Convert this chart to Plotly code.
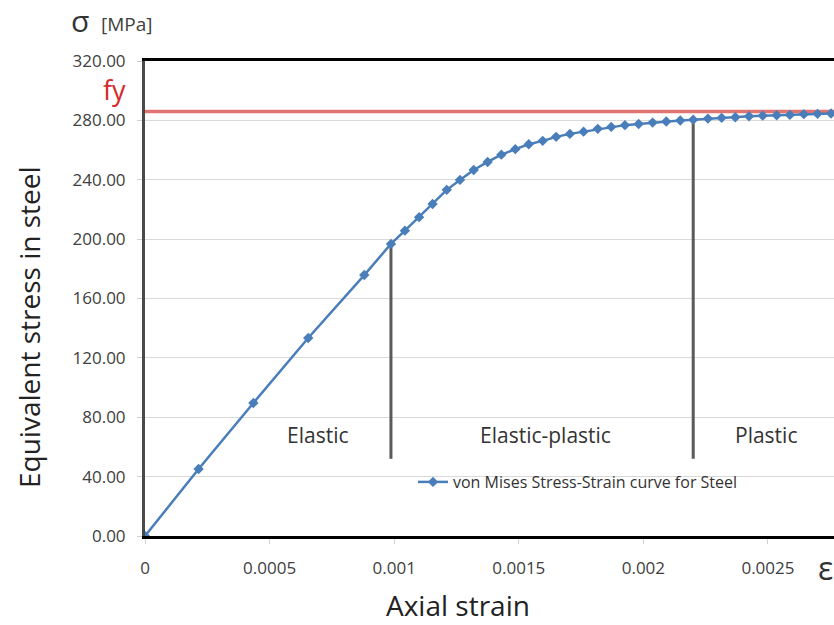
import plotly.graph_objects as go

# Axial strain and equivalent (von Mises) stress in steel [MPa]
strain = [0, 0.000215, 0.000435, 0.000655, 0.00088, 0.000987, 0.001043, 0.0011,
          0.001154, 0.001211, 0.001264, 0.001319, 0.001375, 0.00143, 0.001486,
          0.00154, 0.001596, 0.00165, 0.001705, 0.00176, 0.001817, 0.001871,
          0.001926, 0.001981, 0.002037, 0.002092, 0.002148, 0.0022, 0.002259,
          0.002314, 0.002369, 0.002424, 0.002479, 0.002535, 0.002588, 0.002644,
          0.002699, 0.002753]
stress = [0, 45.1, 89.6, 133.4, 175.8, 196.8, 205.7, 214.8, 223.7, 233.2, 239.9,
          246.6, 252.0, 256.9, 260.6, 263.9, 266.2, 268.9, 270.9, 272.4, 274.3,
          275.6, 276.8, 277.6, 278.5, 279.2, 279.9, 280.5, 281.2, 281.7, 282.1,
          282.8, 283.2, 283.5, 283.7, 284.2, 284.4, 284.6]

fy = 286.0                      # yield strength
boundary_idx = [5, 27]          # curve points separating the regions
boundary_bottom = 52.0

region_names = ["Elastic", "Elastic-plastic", "Plastic"]
region_x = [0.000694, 0.001609, 0.002492]
region_y = 68.0

x_ticks = [0, 0.0005, 0.001, 0.0015, 0.002, 0.0025]
x_tick_text = ["0", "0.0005", "0.001", "0.0015", "0.002", "0.0025"]
y_ticks = [0, 40, 80, 120, 160, 200, 240, 280, 320]

X_MAX = 0.002765
Y_MAX = 320

W, H = 834, 625
L, R, T, B = 145, 0, 61, 89
PW, PH = W - L - R, H - T - B
FONT = "Open Sans"


def px(xp):
    return (xp - L) / PW


def py(yp):
    return (H - B - yp) / PH


def label(xp, yp, text, size, color, xanchor="center", angle=0):
    return dict(x=px(xp), y=py(yp), xref="paper", yref="paper", text=text,
                xanchor=xanchor, yanchor="middle", textangle=angle,
                showarrow=False, font=dict(family=FONT, size=size, color=color))


fig = go.Figure()

# yield line
fig.add_trace(go.Scatter(
    x=[0, X_MAX], y=[fy, fy], mode="lines",
    line=dict(color="#e07472", width=3.5),
    showlegend=False, hoverinfo="skip"))

# region boundaries
for i in boundary_idx:
    fig.add_trace(go.Scatter(
        x=[strain[i], strain[i]], y=[boundary_bottom, stress[i]], mode="lines",
        line=dict(color="#5a5a5a", width=3),
        showlegend=False, hoverinfo="skip"))

# stress-strain curve
fig.add_trace(go.Scatter(
    x=strain, y=stress, mode="lines+markers",
    name="von Mises Stress-Strain curve for Steel",
    line=dict(color="#4a7ebb", width=2.5),
    marker=dict(symbol="diamond", size=8, color="#4a7ebb")))

annotations = []
for name, xv in zip(region_names, region_x):
    annotations.append(dict(x=xv, y=region_y, xref="x", yref="y", text=name,
                            xanchor="center", yanchor="middle",
                            showarrow=False, font=dict(family=FONT, size=21, color="#333333")))

annotations += [
    label(69, 21, "σ", 30, "#333333", xanchor="left"),
    label(99, 24, "[MPa]", 19, "#404040", xanchor="left"),
    label(114, 89, "fy", 27, "#d42a2a"),
    label(825, 567, "ε", 32, "#333333"),
    label(458, 605, "Axial strain", 28, "#222222"),
    label(29, 327, "Equivalent stress in steel", 28, "#222222", angle=-90),
]

fig.update_layout(
    width=W, height=H,
    margin=dict(l=L, r=R, t=T, b=B, autoexpand=False),
    paper_bgcolor="white", plot_bgcolor="white",
    font=dict(family=FONT, color="#404040"),
    showlegend=True,
    legend=dict(x=px(413), y=py(482), xanchor="left", yanchor="middle",
                bgcolor="rgba(0,0,0,0)", font=dict(family=FONT, size=16, color="#333333")),
    annotations=annotations,
    shapes=[dict(type="rect", xref="paper", yref="paper",
                 x0=px(388), x1=px(813), y0=py(500), y1=py(462),
                 fillcolor="white", line=dict(width=0), layer="between")],
)

fig.update_xaxes(
    range=[0, X_MAX], tickvals=x_ticks, ticktext=x_tick_text,
    showgrid=False, zeroline=False,
    showline=True, linecolor="black", linewidth=3, mirror=True,
    ticks="outside", ticklen=5, tickcolor="#d0d0d0", tickwidth=1,
    ticklabelstandoff=10,
    tickfont=dict(family=FONT, size=17, color="#404040"))

fig.update_yaxes(
    range=[0, Y_MAX], tickvals=y_ticks, tickformat=".2f",
    showgrid=True, gridcolor="#d9d9d9", gridwidth=1, zeroline=False,
    showline=True, linecolor="#4a4a4a", linewidth=3,
    ticks="outside", ticklen=5, tickcolor="#d0d0d0", tickwidth=1,
    ticklabelstandoff=8,
    tickfont=dict(family=FONT, size=17, color="#404040"))

fig.write_html("out.html")
